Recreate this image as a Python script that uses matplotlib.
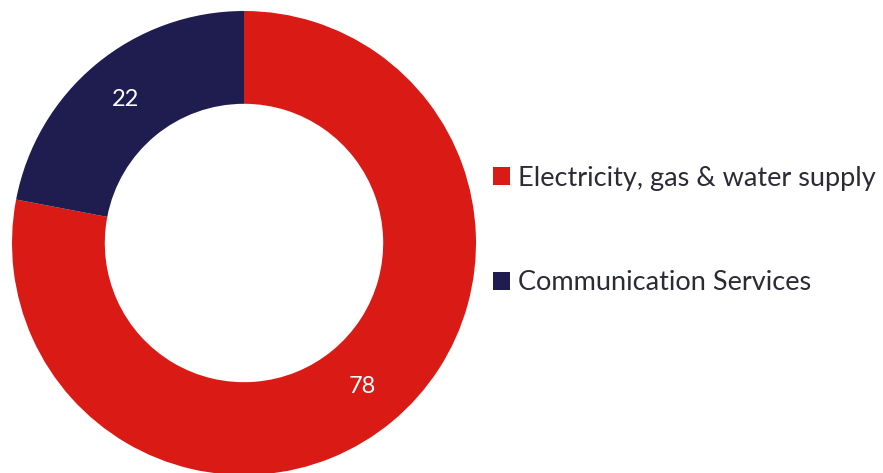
import numpy as np
import matplotlib.pyplot as plt
from matplotlib.patches import Patch

labels = ['Electricity, gas & water supply', 'Communication Services']
values = [78, 22]
colors = ['#DA1A14', '#1F1D50']

plt.rcParams['font.family'] = ['Lato', 'DejaVu Sans']

fig = plt.figure(figsize=(8.83, 4.73), dpi=100)
ax = fig.add_axes([12 / 883, -2 / 473, 464 / 883, 464 / 473])

wedges, texts = ax.pie(values, colors=colors, startangle=90, counterclock=False,
                       radius=1, wedgeprops=dict(width=0.4, linewidth=0))
for w, v in zip(wedges, values):
    ang = np.deg2rad((w.theta1 + w.theta2) / 2)
    ax.text(0.8 * np.cos(ang), 0.8 * np.sin(ang), str(v), color='white',
            fontsize=17, ha='center', va='center')
ax.set_xlim(-1, 1)
ax.set_ylim(-1, 1)
ax.set_aspect('equal')

handles = [Patch(facecolor=c, edgecolor='none') for c in colors]
fig.legend(handles, labels, loc='center left', bbox_to_anchor=(493 / 883, 242.5 / 473),
           frameon=False, fontsize=19.5, handlelength=0.62, handleheight=0.62,
           handletextpad=0.3, labelspacing=2.95, borderpad=0, borderaxespad=0,
           labelcolor='#2B2B35')

fig.savefig('out.png', dpi=100)
